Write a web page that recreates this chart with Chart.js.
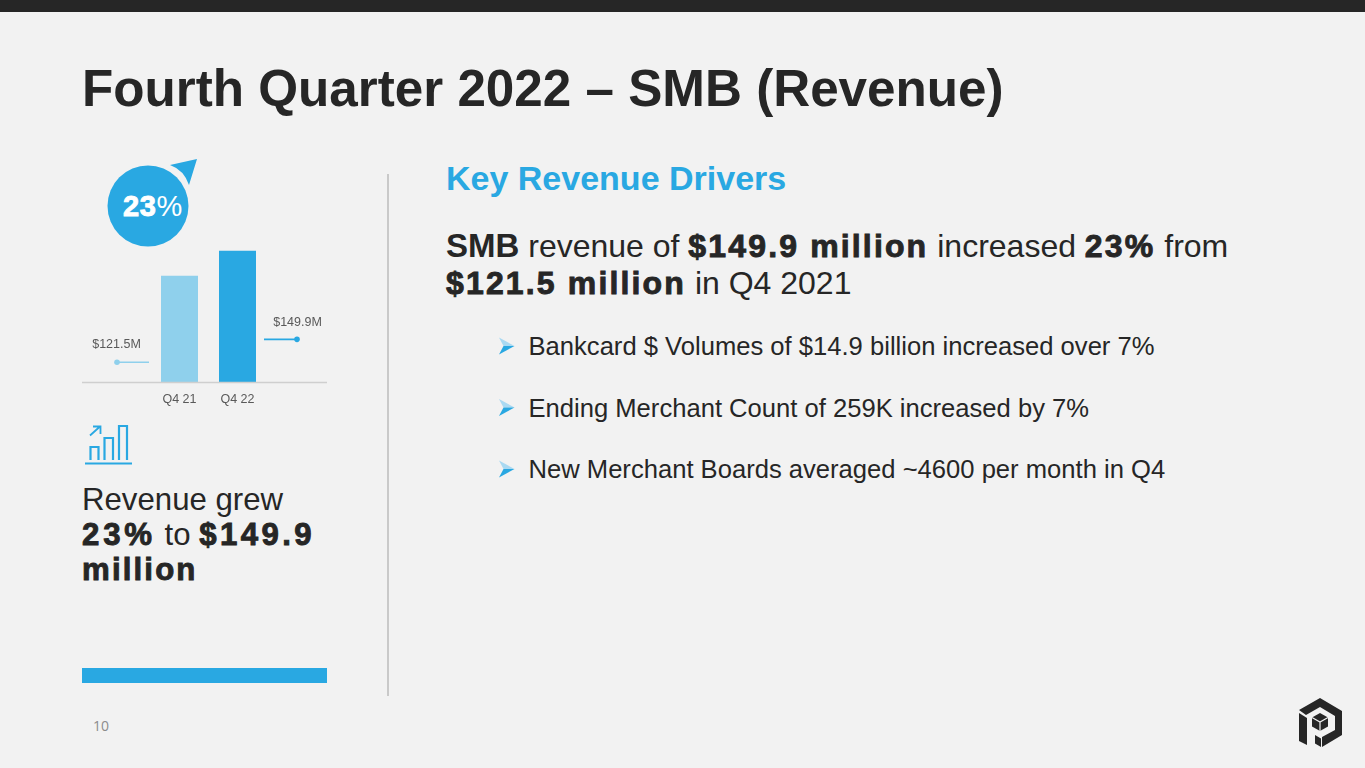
<!DOCTYPE html>
<html><head><meta charset="utf-8">
<script src="https://cdn.jsdelivr.net/npm/chart.js@4/dist/chart.umd.min.js"></script>
<style>
html,body{margin:0;padding:0;background:#f2f2f2;overflow:hidden}
#page{position:relative;width:1365px;height:768px;background:#f2f2f2;font-family:"Liberation Sans",Arial,sans-serif;color:#262626;overflow:hidden}
.a{position:absolute;white-space:nowrap}
b.h{font-weight:700;-webkit-text-stroke:.9px #262626;letter-spacing:2.15px}
#c{position:absolute;left:82px;top:232px;width:245px;height:180px}
</style></head><body>
<div id="page">
<div class="a" style="left:0;top:0;width:1365px;height:12px;background:#262626"></div>
<div class="a" style="left:82px;top:60px;font-size:51.2px;line-height:58px;font-weight:700">Fourth Quarter 2022 – SMB (Revenue)</div>
<div class="a" style="left:387px;top:174px;width:2px;height:522px;background:#c9c9c9"></div>
<svg class="a" style="left:100px;top:150px" width="110" height="105" viewBox="100 150 110 105">
<circle cx="148" cy="206" r="40.5" fill="#29a8e2"/>
<path d="M197 159L170 165Q184 170 189 185Z" fill="#29a8e2"/>
</svg>
<div class="a" style="left:123px;top:189px;font-size:29px;line-height:34px;color:#fff"><b class="h" style="-webkit-text-stroke-color:#fff;letter-spacing:.6px">23</b>%</div>
<canvas id="c" width="245" height="180"></canvas>
<svg class="a" style="left:80px;top:420px" width="60" height="50" viewBox="80 420 60 50" fill="none" stroke="#29a8e2" stroke-width="2.200">
<path d="M90.500 460V447H98.500V460M104.500 460V438H113V460M119 460V426H127V460"/>
<path d="M85 463.500H132"/>
<path d="M90 435.500L100 426.500M93 426.500H100.500V434" stroke-width="1.800"/>
</svg>
<div class="a" style="left:82px;top:482px;font-size:31.2px;line-height:35px">Revenue grew<br><b class="h" style="letter-spacing:3.8px">23%</b> to <b class="h" style="letter-spacing:3.4px">$149.9</b><br><b class="h">million</b></div>
<div class="a" style="left:82px;top:668px;width:245px;height:15px;background:#29a8e2"></div>
<div class="a" style="left:93px;top:717px;font-size:14px;line-height:18px;color:#8c8c8c;font-family:'Open Sans'">10</div>
<div class="a" style="left:446px;top:159px;font-size:34px;line-height:38px;font-weight:700;color:#29a8e2">Key Revenue Drivers</div>
<div class="a" style="left:446px;top:228px;font-size:32px;line-height:36.500px"><b style="font-size:33px">SMB</b> revenue of <b class="h">$149.9 million</b> increased <b class="h">23%</b> from<br><b class="h">$121.5 million</b> in Q4 2021</div>
<svg class="a" style="left:495px;top:330px" width="25" height="150" viewBox="495 330 25 150">
<defs><g id="ar"><path d="M499 0L514.500 8.500L503.500 8.500Z" fill="#a9d9f2"/><path d="M514.500 8.500L499 17L503.500 8.500Z" fill="#29a8e2"/></g></defs>
<use href="#ar" y="337.500"/><use href="#ar" y="399"/><use href="#ar" y="460.500"/>
</svg>
<div class="a" style="left:528.500px;top:331px;font-size:25.6px;line-height:30px">Bankcard $ Volumes of $14.9 billion increased over 7%</div>
<div class="a" style="left:528.500px;top:392.500px;font-size:25.6px;line-height:30px">Ending Merchant Count of 259K increased by 7%</div>
<div class="a" style="left:528.500px;top:454px;font-size:25.6px;line-height:30px">New Merchant Boards averaged ~4600 per month in Q4</div>
<svg class="a" style="left:1295px;top:694px" width="50" height="56" viewBox="0 0 50 56" fill="#262626">
<path d="M4 16L25 4L47 17V41L27 53V43L40 36V22L25 13L11 21Z"/>
<path d="M4 19L12 24V51L4 47Z"/>
<path d="M25 19L33 23.500V32.500L25 37L17 32.500V23.500Z"/>
<path d="M17 23.500L25 28L33 23.500M25 28V37" stroke="#f2f2f2" stroke-width="1.200" fill="none"/>
<path d="M20 41L26 44.500V53L20 49.500Z"/>
</svg>
</div>
<script>
const categories = ["Q4 21", "Q4 22"];
const revenueValues = [121.5, 149.9];
const valueLabels = ["$121.5M", "$149.9M"];
const barColors = ["#8fd0ec", "#29a8e2"];
const leadOffsets = [
  {from:-44,to:-12,dot:"start",drop:86.5,text:-18,textX:-44.5},
  {from:45,to:78,dot:"end",drop:88.5,text:-17,textX:78.5}
];

const decor = {
  id:"decor",
  afterDatasetsDraw(chart){
    const {ctx, chartArea:a, width} = chart;
    ctx.save();
    ctx.strokeStyle="#cfcfcf"; ctx.lineWidth=1.5;
    ctx.beginPath(); ctx.moveTo(0,a.bottom+.5); ctx.lineTo(width,a.bottom+.5); ctx.stroke();
    chart.getDatasetMeta(0).data.forEach((bar,i)=>{
      const left = bar.x-bar.width/2, o = leadOffsets[i], y = bar.y+o.drop;
      const x1 = left+o.from, x2 = left+o.to, col = barColors[i];
      ctx.strokeStyle=col; ctx.lineWidth=1.6;
      ctx.beginPath(); ctx.moveTo(x1,y); ctx.lineTo(x2,y); ctx.stroke();
      ctx.fillStyle=col; ctx.beginPath();
      ctx.arc(o.dot==="start"?x1:x2,y,2.8,0,Math.PI*2); ctx.fill();
      ctx.fillStyle="#595959"; ctx.font='12.5px "Liberation Sans"';
      ctx.textAlign="center"; ctx.textBaseline="middle";
      ctx.fillText(valueLabels[i],left+o.textX,y+o.text);
    });
    ctx.restore();
  }
};
new Chart(document.getElementById("c"),{
  type:"bar",
  data:{labels:categories,datasets:[{data:revenueValues,backgroundColor:barColors,
    categoryPercentage:1,barPercentage:0.638,borderWidth:0}]},
  plugins:[decor],
  options:{
    responsive:false,animation:false,devicePixelRatio:1,
    layout:{padding:{left:68.5,right:60.5,top:10,bottom:0}},
    plugins:{legend:{display:false},tooltip:{enabled:false}},
    scales:{
      x:{grid:{display:false},border:{display:false},
        ticks:{color:"#595959",font:{family:"Liberation Sans",size:12.5},padding:2,maxRotation:0},
        afterFit(s){s.height=30;}},
      y:{display:false,min:0,max:160}
    }
  }
});
</script>
</body></html>
